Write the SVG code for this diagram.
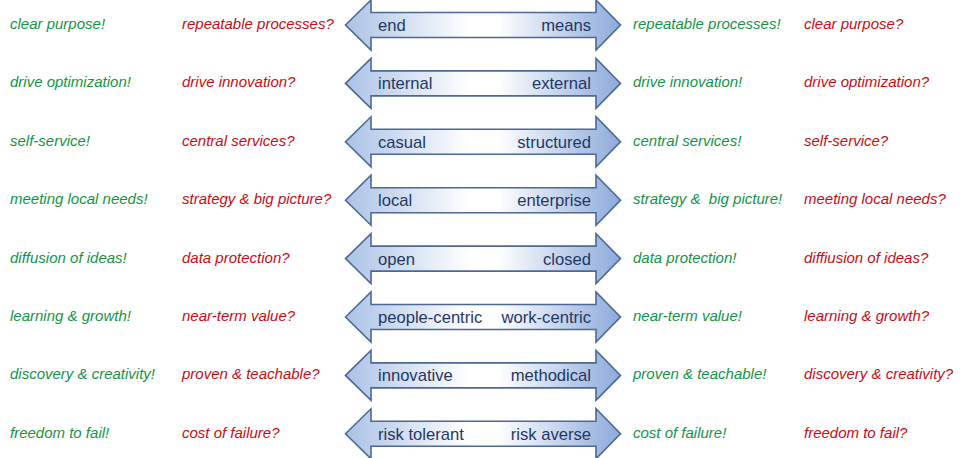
<svg xmlns="http://www.w3.org/2000/svg" width="965" height="458" viewBox="0 0 965 458">
<defs>
<linearGradient id="g" x1="0" y1="0" x2="1" y2="0">
<stop offset="0" stop-color="#abc2e6"/>
<stop offset="0.45" stop-color="#ffffff"/>
<stop offset="0.55" stop-color="#ffffff"/>
<stop offset="1" stop-color="#8eaadb"/>
</linearGradient>
<polygon id="arr" points="345.5,0 371,-25 371,-12.5 596,-12.5 596,-25 620.5,0 596,25 596,12.5 371,12.5 371,25"/>
</defs>
<style>
.a{fill:url(#g);stroke:#4d6894;stroke-width:1.6;stroke-linejoin:miter}
.t{font-family:"Liberation Sans",Arial,sans-serif;font-size:15px;font-style:italic}
.p{fill:#139447}
.q{fill:#cc0a14}
.l{font-family:"Liberation Sans",Arial,sans-serif;font-size:16.6px;fill:#1f3864}
.r{text-anchor:end}
</style>
<rect width="965" height="458" fill="#ffffff"/>
<g id="row1">
<use href="#arr" class="a" transform="translate(0,25)"/>
<text class="l" x="378" y="31">end</text><text class="l r" x="591" y="31">means</text>
<text class="t p" x="10" y="29">clear purpose!</text><text class="t q" x="182" y="29">repeatable processes?</text>
<text class="t p" x="633" y="29">repeatable processes!</text><text class="t q" x="804" y="29">clear purpose?</text>
</g>
<g id="row2">
<use href="#arr" class="a" transform="translate(0,83.4)"/>
<text class="l" x="378" y="89.4">internal</text><text class="l r" x="591" y="89.4">external</text>
<text class="t p" x="10" y="87.4">drive optimization!</text><text class="t q" x="182" y="87.4">drive innovation?</text>
<text class="t p" x="633" y="87.4">drive innovation!</text><text class="t q" x="804" y="87.4">drive optimization?</text>
</g>
<g id="row3">
<use href="#arr" class="a" transform="translate(0,141.8)"/>
<text class="l" x="378" y="147.8">casual</text><text class="l r" x="591" y="147.8">structured</text>
<text class="t p" x="10" y="145.8">self-service!</text><text class="t q" x="182" y="145.8">central services?</text>
<text class="t p" x="633" y="145.8">central services!</text><text class="t q" x="804" y="145.8">self-service?</text>
</g>
<g id="row4">
<use href="#arr" class="a" transform="translate(0,200.2)"/>
<text class="l" x="378" y="206.2">local</text><text class="l r" x="591" y="206.2">enterprise</text>
<text class="t p" x="10" y="204.2">meeting local needs!</text><text class="t q" x="182" y="204.2">strategy &amp; big picture?</text>
<text class="t p" x="633" y="204.2" xml:space="preserve">strategy &amp;  big picture!</text><text class="t q" x="804" y="204.2">meeting local needs?</text>
</g>
<g id="row5">
<use href="#arr" class="a" transform="translate(0,258.6)"/>
<text class="l" x="378" y="264.6">open</text><text class="l r" x="591" y="264.6">closed</text>
<text class="t p" x="10" y="262.6">diffusion of ideas!</text><text class="t q" x="182" y="262.6">data protection?</text>
<text class="t p" x="633" y="262.6">data protection!</text><text class="t q" x="804" y="262.6">diffiusion of ideas?</text>
</g>
<g id="row6">
<use href="#arr" class="a" transform="translate(0,317)"/>
<text class="l" x="378" y="323">people-centric</text><text class="l r" x="591" y="323">work-centric</text>
<text class="t p" x="10" y="321">learning &amp; growth!</text><text class="t q" x="182" y="321">near-term value?</text>
<text class="t p" x="633" y="321">near-term value!</text><text class="t q" x="804" y="321">learning &amp; growth?</text>
</g>
<g id="row7">
<use href="#arr" class="a" transform="translate(0,375.4)"/>
<text class="l" x="378" y="381.4">innovative</text><text class="l r" x="591" y="381.4">methodical</text>
<text class="t p" x="10" y="379.4">discovery &amp; creativity!</text><text class="t q" x="182" y="379.4">proven &amp; teachable?</text>
<text class="t p" x="633" y="379.4">proven &amp; teachable!</text><text class="t q" x="804" y="379.4">discovery &amp; creativity?</text>
</g>
<g id="row8">
<use href="#arr" class="a" transform="translate(0,433.8)"/>
<text class="l" x="378" y="439.8">risk tolerant</text><text class="l r" x="591" y="439.8">risk averse</text>
<text class="t p" x="10" y="437.8">freedom to fail!</text><text class="t q" x="182" y="437.8">cost of failure?</text>
<text class="t p" x="633" y="437.8">cost of failure!</text><text class="t q" x="804" y="437.8">freedom to fail?</text>
</g>
<g id="connectors"></g>
</svg>
